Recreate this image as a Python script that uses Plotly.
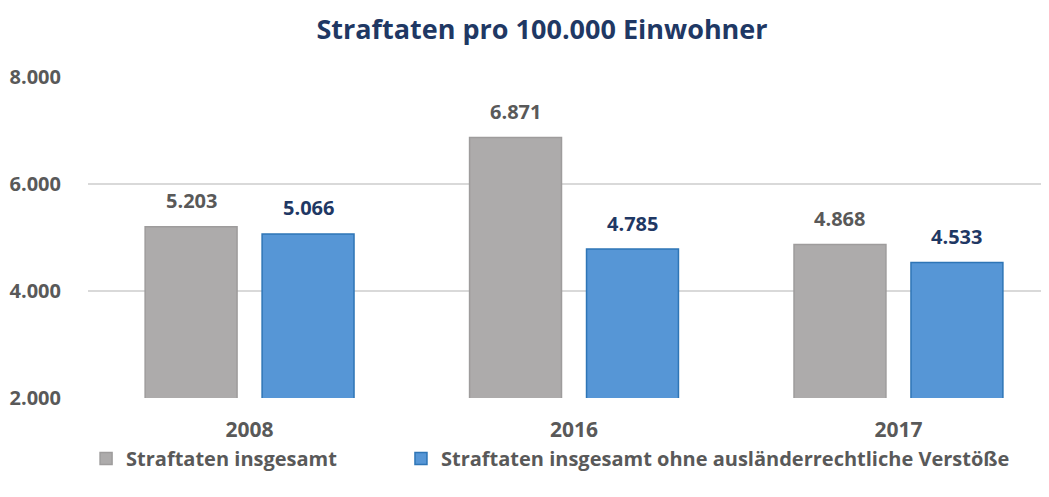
import plotly.graph_objects as go

years = ["2008", "2016", "2017"]
gesamt = [5203, 6871, 4868]
ohne = [5066, 4785, 4533]
series_names = ["Straftaten insgesamt", "Straftaten insgesamt ohne ausländerrechtliche Verstöße"]
y_ticks = [2000, 4000, 6000, 8000]
y_tick_labels = ["2.000", "4.000", "6.000", "8.000"]

def fmt(v):
    return f"{v:,}".replace(",", ".")

FONT = "Open Sans"
GREY_TXT = "#595959"
NAVY = "#1F3864"

fig = go.Figure()
fig.add_trace(go.Bar(x=years, y=gesamt, name=series_names[0], legend="legend",
                     marker=dict(color="#ADABAB", line=dict(color="#9E9C9C", width=1.5))))
fig.add_trace(go.Bar(x=years, y=ohne, name=series_names[1], legend="legend2",
                     marker=dict(color="#5696D6", line=dict(color="#2E75B6", width=1.5))))

# value labels: x given as category index (category axis), y from the data
for i in range(len(years)):
    fig.add_annotation(x=i, y=gesamt[i], xref="x", yref="y", text=fmt(gesamt[i]),
                       showarrow=False, xshift=-58.5, yshift=26,
                       font=dict(family=FONT, size=20, color=GREY_TXT, weight="bold"))
    fig.add_annotation(x=i, y=ohne[i], xref="x", yref="y", text=fmt(ohne[i]),
                       showarrow=False, xshift=58.5, yshift=26,
                       font=dict(family=FONT, size=20, color=NAVY, weight="bold"))

legend_font = dict(family=FONT, size=20, color=GREY_TXT, weight="bold")
fig.update_layout(
    width=1041, height=489,
    margin=dict(l=80, r=0, t=69, b=99, autoexpand=False),
    paper_bgcolor="white", plot_bgcolor="white",
    title=dict(text="<b>Straftaten pro 100.000 Einwohner</b>", x=0.513, xanchor="center",
               xref="container", yref="container", y=0.955, yanchor="middle",
               font=dict(family=FONT, size=27, color=NAVY)),
    barmode="group", bargap=0.279, bargroupgap=0.214,
    showlegend=True,
    legend=dict(xref="container", yref="container", x=0.075, y=0.1186,
                xanchor="left", yanchor="top", font=legend_font, itemwidth=30),
    legend2=dict(xref="container", yref="container", x=0.3775, y=0.1186,
                 xanchor="left", yanchor="top", font=legend_font, itemwidth=30),
    yaxis=dict(range=[2000, 8000], tickvals=y_ticks, ticktext=y_tick_labels,
               showgrid=True, gridcolor="#D9D9D9", gridwidth=1.5, zeroline=False,
               showline=False, ticks="outside", ticklen=22, tickcolor="rgba(0,0,0,0)",
               automargin=False,
               tickfont=dict(family=FONT, size=20, color=GREY_TXT, weight="bold")),
    xaxis=dict(type="category", categoryorder="array", categoryarray=years,
               range=[-0.498, 2.464],
               showline=False, ticks="outside", ticklen=13, tickcolor="rgba(0,0,0,0)",
               automargin=False, showgrid=False,
               tickfont=dict(family=FONT, size=21, color=GREY_TXT, weight="bold")),
)
fig.write_html("out.html")
